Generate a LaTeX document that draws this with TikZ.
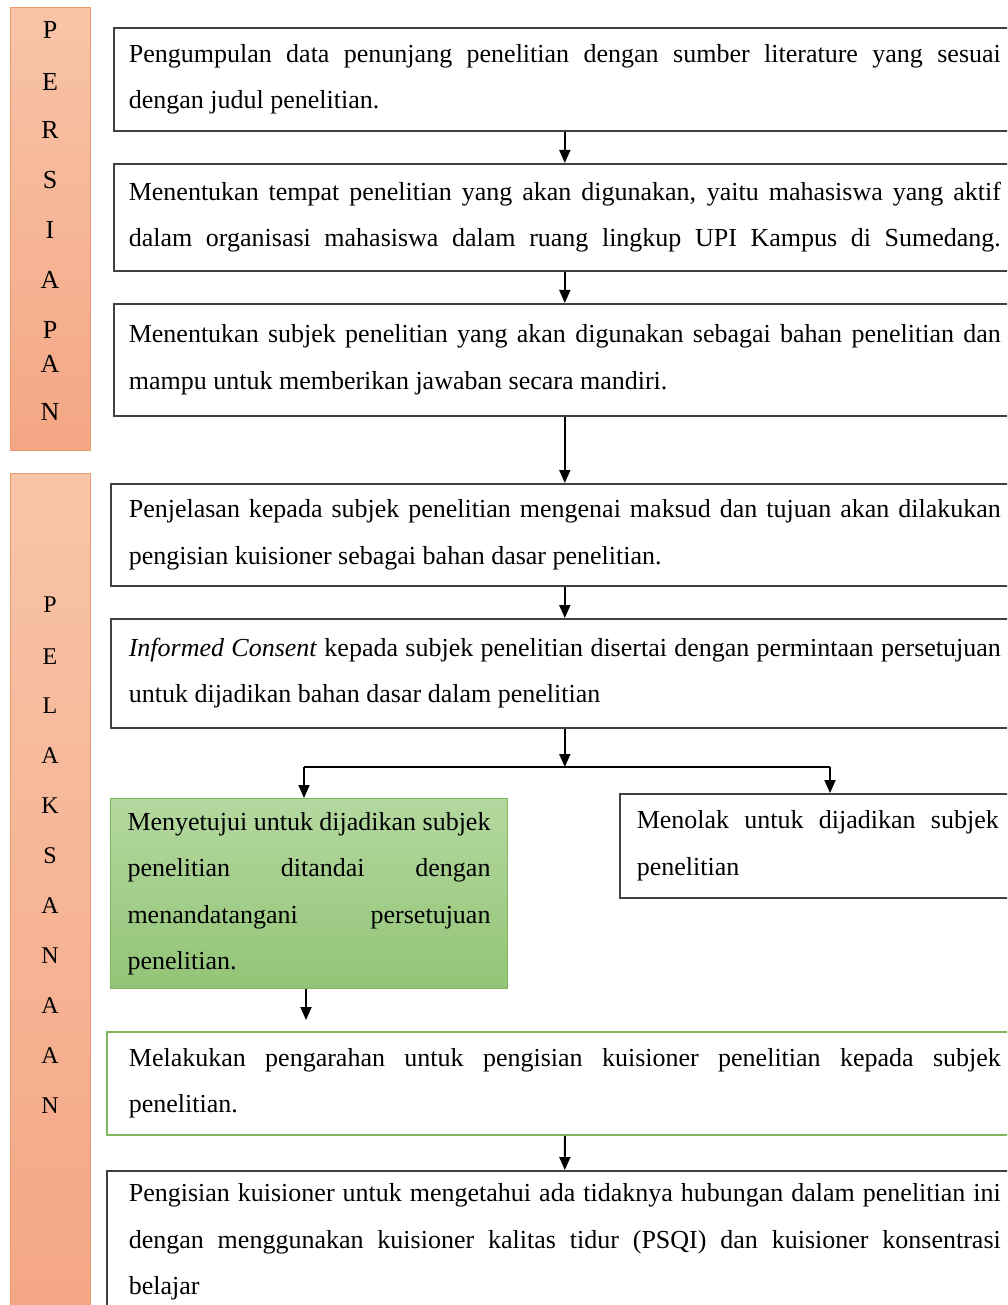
\documentclass[tikz,border=0pt]{standalone}
\usepackage{fontspec}
\setmainfont{Liberation Serif}
\usetikzlibrary{arrows.meta}
\definecolor{orangeTop}{RGB}{248,196,168}
\definecolor{orangeBot}{RGB}{244,166,132}
\definecolor{orangeLine}{RGB}{238,152,112}
\definecolor{greenFillA}{RGB}{180,216,160}
\definecolor{greenFillB}{RGB}{146,196,118}
\definecolor{greenLine}{RGB}{128,182,92}
\definecolor{boxLine}{RGB}{64,64,64}
\newcommand{\jline}[1]{\makebox[\hsize][s]{\spaceskip=0pt\xspaceskip=0pt #1}}
\newcommand{\lline}[1]{\makebox[\hsize][l]{\spaceskip=0pt\xspaceskip=0pt #1}}
\begin{document}
\begin{tikzpicture}[x=1pt,y=-1pt,
  txt/.style={font=\fontsize{26}{46.5}\selectfont},
  box/.style={draw=boxLine, line width=1.6pt, anchor=north west, align=left, inner ysep=0pt, txt},
  wide/.style={box, text width=872pt},
  arr/.style={-{Triangle[width=11pt,length=13pt]}, line width=1.8pt, black},
  side/.style={anchor=north west, draw=orangeLine, line width=1pt, top color=orangeTop, bottom color=orangeBot, minimum width=80pt, inner sep=0pt},
  letterA/.style={font=\fontsize{26}{26}\selectfont, inner sep=0pt},
  letterB/.style={font=\fontsize{24}{24}\selectfont, inner sep=0pt}
]
\path[use as bounding box, clip] (0,0) rectangle (1007,1305);

% side bars
\node[side, minimum height=443pt] (persiapan) at (10,7) {};
\node[side, minimum height=850pt] (pelaksanaan) at (10,473) {};
\foreach \l/\y [count=\i] in {P/30,E/82,R/130,S/180,I/230,A/280,P/330,A/364,N/412}
  \node[letterA] (pa\i) at (50,\y) {\l};
\foreach \l/\y [count=\i] in {P/605,E/657,L/706,A/756,K/806,S/856,A/906,N/956,A/1006,A/1056,N/1106}
  \node[letterB] (pl\i) at (50,\y) {\l};

% boxes
\node[wide, inner xsep=15pt, minimum height=103pt] (b1) at (113,27)
  {\jline{Pengumpulan data penunjang penelitian dengan sumber literature yang sesuai}\\
   \lline{dengan judul penelitian.}};
\node[wide, inner xsep=15pt, minimum height=107pt] (b2) at (113,163)
  {\jline{Menentukan tempat penelitian yang akan digunakan, yaitu mahasiswa yang aktif}\\
   \jline{dalam organisasi mahasiswa dalam ruang lingkup UPI Kampus di Sumedang.}};
\node[wide, inner xsep=15pt, minimum height=112pt] (b3) at (113,303)
  {\jline{Menentukan subjek penelitian yang akan digunakan sebagai bahan penelitian dan}\\
   \lline{mampu untuk memberikan jawaban secara mandiri.}};
\node[wide, inner xsep=18pt, minimum height=102pt] (b4) at (110,483)
  {\jline{Penjelasan kepada subjek penelitian mengenai maksud dan tujuan akan dilakukan}\\
   \lline{pengisian kuisioner sebagai bahan dasar penelitian.}};
\node[wide, inner xsep=18pt, minimum height=109pt] (b5) at (110,618)
  {\jline{\textit{Informed Consent} kepada subjek penelitian disertai dengan permintaan persetujuan}\\
   \lline{untuk dijadikan bahan dasar dalam penelitian}};
\node[box, draw=greenLine, line width=1pt, top color=greenFillA, bottom color=greenFillB,
      text width=363pt, inner xsep=17pt, minimum height=190pt] (g) at (110,798)
  {\jline{Menyetujui untuk dijadikan subjek}\\
   \jline{penelitian ditandai dengan}\\
   \jline{menandatangani persetujuan}\\
   \lline{penelitian.}};
\node[box, text width=362pt, inner xsep=17pt, minimum height=104pt] (r) at (619,793)
  {\jline{Menolak untuk dijadikan subjek}\\
   \lline{penelitian}};
\node[wide, draw=greenLine, line width=1.8pt, inner xsep=22pt, minimum height=103pt] (b6) at (106,1031)
  {\jline{Melakukan pengarahan untuk pengisian kuisioner penelitian kepada subjek}\\
   \lline{penelitian.}};
\node[wide, inner xsep=22pt, minimum height=142pt] (b7) at (106,1170)
  {\jline{Pengisian kuisioner untuk mengetahui ada tidaknya hubungan dalam penelitian ini}\\
   \jline{dengan menggunakan kuisioner kalitas tidur (PSQI) dan kuisioner konsentrasi}\\
   \lline{belajar}};

% connectors
\coordinate (split) at (b5.south |- 0,767);
\coordinate (sl) at (304,767);
\coordinate (sr) at (830,767);
\draw[arr] (b1.south) -- (b2.north);
\draw[arr] (b2.south) -- (b3.north);
\draw[arr] (b3.south) -- (b4.north);
\draw[arr] (b4.south) -- (b5.north);
\draw[arr] (b5.south) -- (split);
\draw[line width=1.8pt] (sl) -- (sr);
\draw[arr] (sl) -- (sl |- g.north);
\draw[arr] (sr) -- (sr |- r.north);
\draw[arr] (g.south -| 306,0) -- ([yshift=11pt]b6.north -| 306,0);
\draw[arr] (b6.south) -- (b7.north);
\end{tikzpicture}
\end{document}
